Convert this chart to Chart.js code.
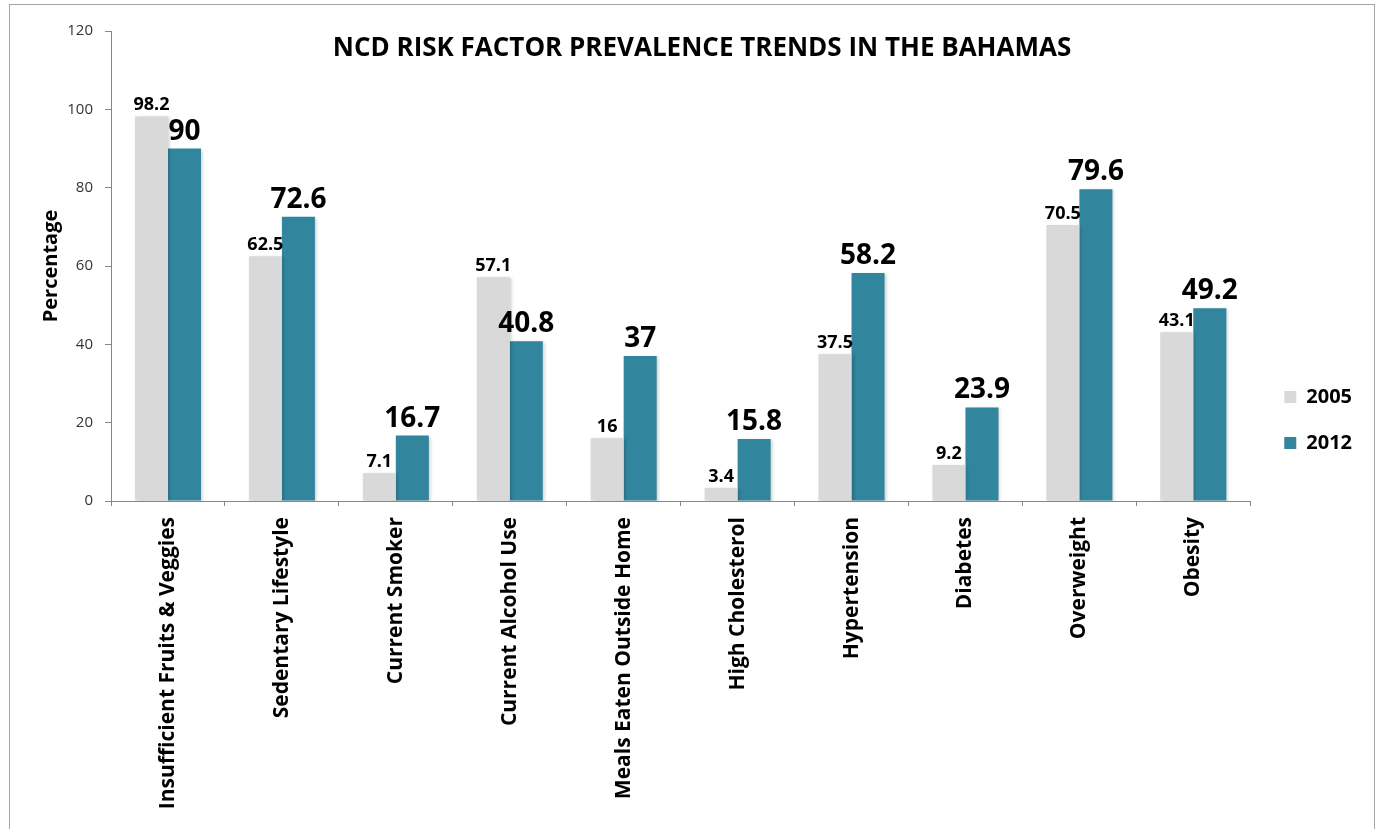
<!DOCTYPE html>
<html><head><meta charset="utf-8">
<script src="https://cdn.jsdelivr.net/npm/chart.js@4/dist/chart.umd.min.js"></script>
<style>
html,body{margin:0;padding:0;background:#fff;overflow:hidden;}
#wrap{position:relative;width:1379px;height:829px;}
canvas{position:absolute;left:0;top:0;}
#frame{position:absolute;left:9px;top:4px;width:1364px;height:840px;border:1px solid #a6a6a6;pointer-events:none;}
</style></head><body>
<div id="wrap"><canvas id="c" width="1379" height="829"></canvas><div id="frame"></div></div>
<script>
const categories = ['Insufficient Fruits & Veggies','Sedentary Lifestyle','Current Smoker','Current Alcohol Use','Meals Eaten Outside Home','High Cholesterol','Hypertension','Diabetes','Overweight','Obesity'];
const values2005 = [98.2, 62.5, 7.1, 57.1, 16, 3.4, 37.5, 9.2, 70.5, 43.1];
const values2012 = [90, 72.6, 16.7, 40.8, 37, 15.8, 58.2, 23.9, 79.6, 49.2];
const seriesNames = ['2005', '2012'];
const yTicks = [0, 20, 40, 60, 80, 100, 120];
const chartTitle = 'NCD RISK FACTOR PREVALENCE TRENDS IN THE BAHAMAS';
const yAxisTitle = 'Percentage';

const FONT = '"Open Sans", "DejaVu Sans", sans-serif';
Chart.defaults.font.family = FONT;
const labelStyles = [{size: 18, gap: 6}, {size: 28, gap: 9}];

const titlePlugin = {
  id: 'customTitle',
  afterDraw(chart) {
    const ctx = chart.ctx;
    ctx.save();
    ctx.font = 'bold 26px ' + FONT;
    ctx.fillStyle = '#000';
    ctx.textAlign = 'center';
    ctx.textBaseline = 'alphabetic';
    ctx.fillText(chartTitle, 702, 56);
    ctx.restore();
  }
};

const shadowPlugin = {
  id: 'barShadow',
  beforeDatasetDraw(chart) {
    const ctx = chart.ctx;
    ctx.save();
    ctx.shadowColor = 'rgba(0,0,0,0.18)';
    ctx.shadowBlur = 3;
    ctx.shadowOffsetX = 2;
    ctx.shadowOffsetY = 1;
  },
  afterDatasetDraw(chart) { chart.ctx.restore(); }
};

const labelPlugin = {
  id: 'barLabels',
  afterDatasetsDraw(chart) {
    const ctx = chart.ctx;
    chart.data.datasets.forEach((ds, i) => {
      const meta = chart.getDatasetMeta(i);
      const st = labelStyles[i];
      ctx.save();
      ctx.font = 'bold ' + st.size + 'px ' + FONT;
      ctx.fillStyle = '#000';
      ctx.textAlign = 'center';
      ctx.textBaseline = 'alphabetic';
      meta.data.forEach((bar, j) => {
        ctx.fillText(String(ds.data[j]), bar.x, bar.y - st.gap);
      });
      ctx.restore();
    });
  }
};

new Chart(document.getElementById('c'), {
  type: 'bar',
  data: {
    labels: categories,
    datasets: [
      {label: seriesNames[0], data: values2005, backgroundColor: '#D9D9D9', borderColor: '#D9D9D9', borderWidth: 0, categoryPercentage: 0.58, barPercentage: 1.0},
      {label: seriesNames[1], data: values2012, backgroundColor: '#31859C', borderColor: '#31859C', borderWidth: 0, categoryPercentage: 0.58, barPercentage: 1.0}
    ]
  },
  options: {
    responsive: false,
    animation: false,
    layout: {padding: {top: 31, left: 0, right: 17, bottom: 20}},
    plugins: {
      legend: {
        position: 'right',
        labels: {boxWidth: 12, boxHeight: 12, padding: 26, color: '#000', font: {size: 20, weight: 'bold'}}
      },
      tooltip: {enabled: false},
      title: {display: false}
    },
    scales: {
      x: {
        grid: {drawOnChartArea: false, tickLength: 5, color: '#868686', offset: true},
        border: {color: '#868686', width: 1},
        ticks: {minRotation: 90, maxRotation: 90, autoSkip: false, color: '#000', font: {size: 21, weight: 'bold'}, padding: 11},
        afterFit: s => { s.height = 308; }
      },
      y: {
        min: 0, max: 120,
        afterBuildTicks: s => { s.ticks = yTicks.map(v => ({value: v})); },
        grid: {drawOnChartArea: false, tickLength: 6, color: '#868686'},
        border: {color: '#868686', width: 1},
        ticks: {color: '#333', font: {size: 15}, padding: 12},
        title: {display: true, text: yAxisTitle, color: '#000', font: {size: 20, weight: 'bold'}, padding: {top: 39, bottom: 0}},
        afterFit: s => { s.width = 111; }
      },
      y2: {
        position: 'right', display: true,
        grid: {display: false, drawTicks: false},
        border: {display: false},
        ticks: {display: false},
        afterFit: s => { s.width = 8; }
      }
    }
  },
  plugins: [shadowPlugin, labelPlugin, titlePlugin]
});
</script>
</body></html>
